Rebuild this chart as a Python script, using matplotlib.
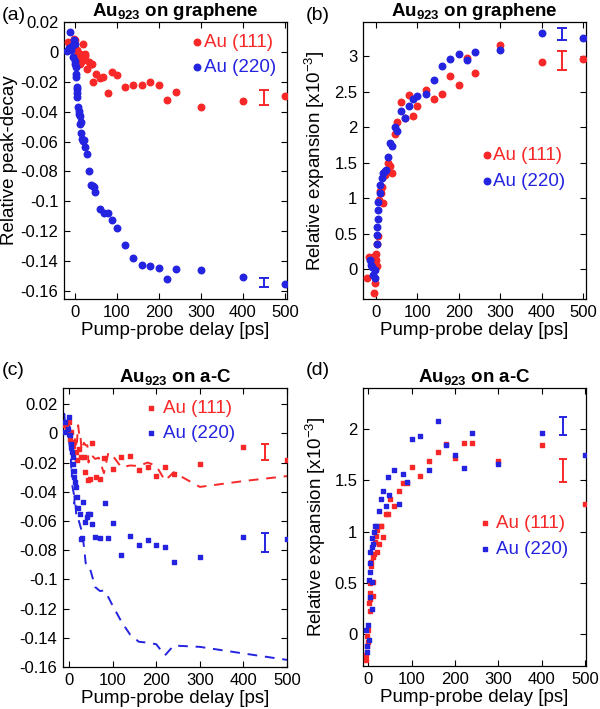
import numpy as np
import matplotlib
matplotlib.use('Agg')
import matplotlib.pyplot as plt

plt.rcParams['font.family'] = ['Liberation Sans', 'DejaVu Sans']
plt.rcParams['mathtext.fontset'] = 'custom'
plt.rcParams['mathtext.rm'] = 'Liberation Sans'
plt.rcParams['mathtext.bf'] = 'Liberation Sans:bold'

RED = '#f82828'
BLUE = '#2424e0'

# ---- (a) Au923 on graphene, relative peak decay
a111_x = [-16, -10, -5, -2, 0, 2, 3, 5, 8, 10, 12.6, 14, 18, 20.7, 24, 26, 28.6,
          34, 38, 42, 44.5, 50, 60, 68, 80, 90, 100, 120, 140, 160, 180, 200,
          220, 240, 300, 400, 500]
a111_y = [0.0067, 0.004, 0.0062, 0.0085, 0.0082, 0.0018, -0.005, 0.001, -0.0005,
          -0.003, -0.0082, -0.0015, -0.006, 0.0055, -0.0027, -0.0016, -0.0116,
          -0.0065, -0.0082, -0.0082, -0.020, -0.0145, -0.0175, -0.0167, -0.0273,
          -0.0133, -0.0153, -0.0233, -0.022, -0.0224, -0.020, -0.0222,
          -0.0324, -0.0267, -0.0367, -0.0327, -0.0293]
a220_x = [-17, -13.5, -11, -8, -5.5, -3, -1.6, 0, 0, 1.6, 2.4, 3, 4, 4.8, 5.6,
          6.3, 6.3, 7.9, 9.5, 11, 11.9, 12.7, 14.3, 15.9, 17.5, 19.8, 21.4, 26,
          30.2, 35, 38, 43, 46, 49, 60, 71, 80, 90, 100, 120, 140, 160, 180, 200,
          220, 240, 300, 400, 500]
a220_y = [0.0007, 0.0029, 0.0133, 0.0011, 0.004, -0.0033, 0.0078, 0.0051, -0.006,
          -0.0082, -0.0104, -0.0147, -0.0171, -0.0233, -0.0278, -0.0249, -0.0304,
          -0.0367, -0.0393, -0.0416, -0.0482, -0.0429, -0.0471, -0.054, -0.0582,
          -0.0593, -0.0589, -0.0638, -0.0682, -0.0798, -0.0889, -0.090, -0.0904,
          -0.0937, -0.1053, -0.108, -0.1076, -0.1122, -0.118, -0.1289, -0.1378,
          -0.1427, -0.1433, -0.1444, -0.152, -0.1453, -0.1462, -0.1507, -0.1551]
a_err_x = [450, 450]
a_err_y = [-0.0305, -0.1542]
a_err_h = [0.0049, 0.0031]

# ---- (b) Au923 on graphene, relative expansion [x1e-3]
b111_x = [-21, -16, -6, -4, -2.4, 0, 1, 2.7, 3, 5, 7, 10, 13, 15, 18, 23, 30, 35,
          38, 45, 50, 60, 70, 80, 90, 100, 120, 140, 160, 180, 200, 220, 240,
          300, 400, 500]
b111_y = [-0.13, 0.17, 0.17, -0.33, -0.20, 0.13, 0.22, 0.36, 0.04, 0.46, 0.98,
          1.10, 1.07, 1.15, 0.93, 1.33, 1.49, 1.45, 1.35, 1.90, 2.07, 2.35,
          2.13, 2.45, 2.16, 2.30, 2.52, 2.40, 2.46, 2.72, 2.59, 2.97, 2.76,
          3.15, 2.91, 2.96]
b220_x = [-14.5, -12, -10, -6, -2.4, -2.4, 2.7, 3.6, 3.6, 4, 4.5, 6, 10, 11, 14,
          18, 21, 24, 30, 35, 40, 45, 50, 60, 70, 80, 90, 100, 120, 140, 160,
          180, 200, 220, 240, 300, 400, 500]
b220_y = [0.127, 0.06, 0.03, -0.08, -0.01, -0.13, 0.48, 0.36, 0.60, 0.71, 0.83,
          0.95, 1.07, 1.18, 1.28, 1.35, 1.38, 1.39, 1.58, 1.78, 1.74, 2.00,
          1.94, 2.22, 2.13, 2.30, 2.39, 2.44, 2.46, 2.66, 2.86, 2.96, 3.03,
          2.94, 3.06, 3.085, 3.33, 3.25]
b_err_x = [450, 450]
b_err_y = [2.94, 3.305]
b_err_h = [0.13, 0.085]

# ---- (c) Au923 on a-C, relative peak decay
c111_x = [-11.5, -8, -4, 0, 3, 5, 8, 12, 16, 18, 22, 27, 34, 37, 43, 48, 52,
          62, 71, 80, 100, 120, 140, 160, 180, 200, 220, 240, 300, 400, 500]
c111_y = [0.0055, 0.0067, 0.002, 0.008, -0.004, 0.001, -0.009, -0.006, -0.013,
          -0.0186, -0.011, -0.0159, -0.016, -0.0267, -0.032, -0.0313, -0.0064,
          -0.030, -0.0313, -0.017, -0.0244, -0.0159, -0.0152, -0.025, -0.0228,
          -0.029, -0.0228, -0.0278, -0.0209, -0.0097, -0.018]
c220_x = [-9, -9, -1.6, 0.7, 2, 4, 5, 7, 8, 9, 11, 12, 14, 16, 18, 21, 24, 28,
          30, 33, 37, 40, 44, 48, 53, 60, 70, 83, 90, 100, 120, 140, 160, 180,
          200, 220, 240, 300, 400, 500]
c220_y = [0.0078, 0.0009, 0.0032, 0.0112, -0.0014, -0.0071, -0.0094, -0.0129,
          -0.0163, -0.0209, -0.0255, -0.0301, -0.0336, -0.037, -0.0439, -0.0508,
          -0.0554, -0.0726, -0.072, -0.0467, -0.061, -0.057, -0.0554, -0.055,
          -0.0623, -0.071, -0.0716, -0.048, -0.0716, -0.0616, -0.083, -0.0703,
          -0.0766, -0.0731, -0.0768, -0.0778, -0.0883, -0.0846, -0.071, -0.0724]
c_err_x = [450, 450]
c_err_y = [-0.0126, -0.0746]
c_err_h = [0.0055, 0.0066]

# ---- (d) Au923 on a-C, relative expansion [x1e-3]
d111_x = [-6, -4.6, -3, -3, -1.5, -1.5, 1, 3, 3, 3, 4.6, 6, 6, 10, 10, 10, 13,
          16, 17, 20, 20, 26, 29, 30, 35, 40, 45, 50, 60, 70, 80, 90, 100, 120,
          140, 160, 180, 200, 220, 240, 300, 400, 500]
d111_y = [-0.25, -0.20, -0.12, -0.02, -0.08, 0.04, 0.30, 0.23, 0.40, 0.50, 0.34,
          0.66, 0.70, 0.37, 0.51, 0.75, 0.78, 0.90, 0.96, 0.80, 1.02, 0.88, 1.05,
          1.05, 0.95, 1.17, 1.17, 1.32, 1.25, 1.40, 1.47, 1.47, 1.63, 1.54,
          1.686, 1.78, 1.85, 1.72, 1.86, 1.86, 1.686, 1.84, 1.267]
d220_x = [-4.6, -3, -2, -1.5, 0.7, 1, 3, 3, 3, 4.6, 8, 8, 8.5, 8.5, 12, 14, 16,
          18, 25, 30, 35, 40, 45, 49, 60, 70, 80, 90, 100, 120, 140, 160, 180,
          200, 220, 240, 300, 400, 500]
d220_y = [0.04, -0.17, -0.12, 0.09, 0.53, -0.06, 0.36, 0.61, 0.69, 0.80, 0.51,
          0.25, 0.94, 0.85, 0.88, 1.0, 1.05, 1.05, 1.20, 1.32, 1.40, 1.25, 1.53,
          1.36, 1.60, 1.27, 1.56, 1.485, 1.90, 1.93, 1.60, 2.08, 1.84, 1.745,
          1.62, 1.96, 1.66, 1.96, 1.75]
d_err_x = [450, 450]
d_err_y = [1.595, 2.03]
d_err_h = [0.115, 0.09]

fig = plt.figure(figsize=(6.0, 7.09), dpi=100)
ax_a = fig.add_axes([0.1067, 0.5783, 0.3717, 0.3907])
ax_b = fig.add_axes([0.605, 0.5783, 0.3717, 0.3907])
ax_c = fig.add_axes([0.105, 0.0592, 0.3733, 0.3935])
ax_d = fig.add_axes([0.605, 0.0607, 0.3717, 0.3921])

xticks = [0, 100, 200, 300, 400, 500]


def style(ax, title, xlim, ylim, yticks, ylabels):
    ax.set_xlim(*xlim)
    ax.set_ylim(*ylim)
    ax.set_xticks(xticks)
    ax.set_xticklabels([str(t) for t in xticks])
    ax.set_yticks(yticks)
    ax.set_yticklabels(ylabels)
    ax.tick_params(direction='in', top=True, right=True, labelsize=12,
                   length=4, width=0.8, pad=4)
    for s in ax.spines.values():
        s.set_linewidth(0.9)
    ax.set_xlabel('Pump-probe delay [ps]', fontsize=13.5, labelpad=2)
    ax.set_title(title, fontsize=13.5, fontweight='bold', pad=4)


def errbars(ax, xs, ys, hs, colors, cap):
    for xe, ye, he, c in zip(xs, ys, hs, colors):
        ax.errorbar(xe, ye, yerr=he, color=c, capsize=cap, elinewidth=1.4,
                    capthick=1.4, fmt='none')


def legend(ax, anchor, pad):
    leg = ax.legend(loc='upper right', bbox_to_anchor=anchor, frameon=False,
                    fontsize=13.5, handlelength=0.6, handletextpad=pad,
                    labelspacing=0.45, borderaxespad=0.0, markerscale=1.0)
    for txt, c in zip(leg.get_texts(), [RED, BLUE]):
        txt.set_color(c)


dec_ticks = [0.02, 0, -0.02, -0.04, -0.06, -0.08, -0.1, -0.12, -0.14, -0.16]
dec_labels = ['0.02', '0', '-0.02', '-0.04', '-0.06', '-0.08', '-0.1', '-0.12',
              '-0.14', '-0.16']

# (a)
ax_a.scatter(a111_x, a111_y, s=22, color=RED, label='Au (111)', zorder=3)
ax_a.scatter(a220_x, a220_y, s=22, color=BLUE, label='Au (220)', zorder=3)
errbars(ax_a, a_err_x, a_err_y, a_err_h, [RED, BLUE], 3.5)
style(ax_a, r'Au$_{\mathbf{923}}$ on graphene', (-25, 505), (-0.1653, 0.02),
      dec_ticks, dec_labels)
ax_a.set_ylabel('Relative peak-decay', fontsize=13.5, labelpad=2)
legend(ax_a, (0.985, 0.985), 0.1)

# (b)
exp_b = [0, 0.5, 1, 1.5, 2, 2.5, 3]
ax_b.scatter(b111_x, b111_y, s=22, color=RED, label='Au (111)', zorder=3)
ax_b.scatter(b220_x, b220_y, s=22, color=BLUE, label='Au (220)', zorder=3)
errbars(ax_b, b_err_x, b_err_y, b_err_h, [RED, BLUE], 3.5)
style(ax_b, r'Au$_{\mathbf{923}}$ on graphene', (-31, 507), (-0.42, 3.48),
      exp_b, ['0', '0.5', '1', '1.5', '2', '2.5', '3'])
ax_b.set_ylabel(r'Relative expansion [x10$^{-3}$]', fontsize=13.5, labelpad=5)
legend(ax_b, (0.94, 0.575), 0.0)

# (c)
ax_c.plot(a111_x, a111_y, '--', color=RED, lw=1.4, dashes=(5, 4), zorder=2)
ax_c.plot(a220_x, a220_y, '--', color=BLUE, lw=1.4, dashes=(5, 4), zorder=2)
ax_c.scatter(c111_x, c111_y, s=10, marker='s', color=RED, label='Au (111)', zorder=3)
ax_c.scatter(c220_x, c220_y, s=10, marker='s', color=BLUE, label='Au (220)', zorder=3)
errbars(ax_c, c_err_x, c_err_y, c_err_h, [RED, BLUE], 3.0)
style(ax_c, r'Au$_{\mathbf{923}}$ on a-C', (-14, 500), (-0.16, 0.031),
      dec_ticks, dec_labels)
legend(ax_c, (0.80, 0.985), 0.3)

# (d)
ax_d.scatter(d111_x, d111_y, s=10, marker='s', color=RED, label='Au (111)', zorder=3)
ax_d.scatter(d220_x, d220_y, s=10, marker='s', color=BLUE, label='Au (220)', zorder=3)
errbars(ax_d, d_err_x, d_err_y, d_err_h, [RED, BLUE], 3.0)
style(ax_d, r'Au$_{\mathbf{923}}$ on a-C', (-12, 502), (-0.31, 2.4),
      [0, 0.5, 1, 1.5, 2], ['0', '0.5', '1', '1.5', '2'])
ax_d.set_ylabel(r'Relative expansion [x10$^{-3}$]', fontsize=13.5, labelpad=5)
legend(ax_d, (0.955, 0.57), 0.3)

# panel letters
for lbl, x, y in [('(a)', 0.003, 0.99), ('(b)', 0.51, 0.99),
                  ('(c)', 0.003, 0.49), ('(d)', 0.51, 0.49)]:
    fig.text(x, y, lbl, fontsize=14, ha='left', va='top')

fig.savefig('out.png', dpi=100)
